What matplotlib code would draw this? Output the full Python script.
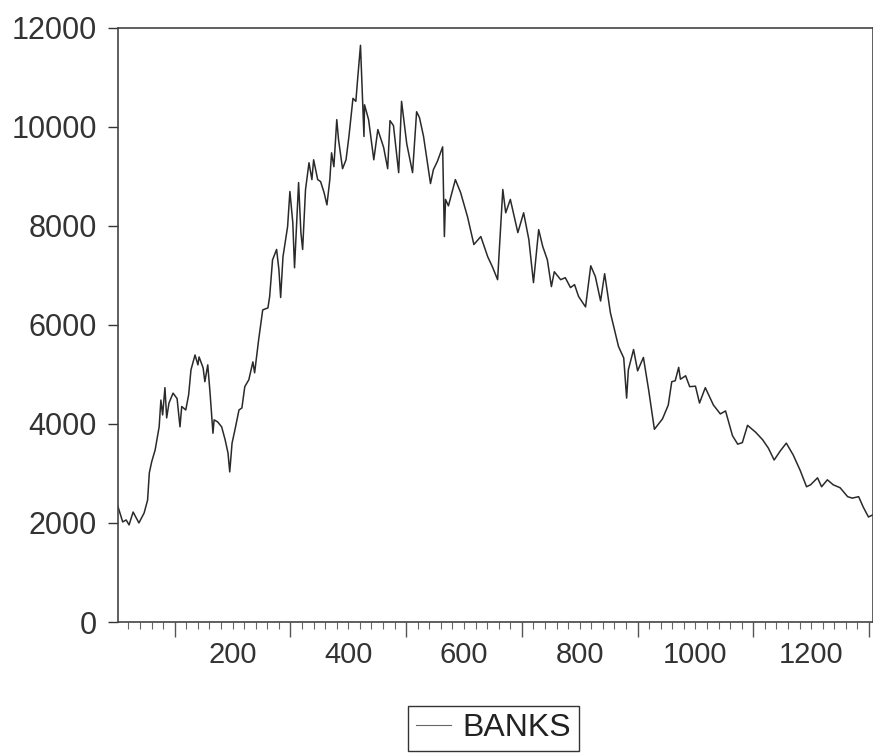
import matplotlib
matplotlib.use("Agg")
import matplotlib.pyplot as plt
from matplotlib.ticker import FixedLocator, MultipleLocator, FuncFormatter, NullFormatter

plt.rcParams['font.family'] = ['Liberation Sans', 'DejaVu Sans']

obs = [1, 10, 16, 21, 28, 38, 47, 53, 56, 60, 66, 73, 76, 79, 83, 86, 90, 97,
       104, 109, 112, 119, 124, 128, 135, 140, 142, 149, 152, 157, 161, 166,
       168, 174, 181, 187, 192, 195, 199, 204, 211, 216, 221, 228, 235, 238,
       245, 252, 261, 264, 269, 276, 280, 283, 287, 295, 299, 304, 307, 314,
       318, 321, 326, 332, 337, 340, 347, 352, 358, 363, 368, 371, 375, 380,
       383, 390, 396, 401, 408, 413, 416, 421, 427, 428, 435, 444, 451, 461,
       468, 472, 478, 487, 492, 501, 511, 518, 523, 530, 542, 547, 554, 563,
       566, 568, 573, 585, 594, 606, 617, 629, 641, 649, 658, 667, 672, 680,
       693, 703, 712, 720, 729, 736, 744, 751, 756, 767, 775, 784, 791, 798,
       810, 819, 827, 836, 843, 853, 867, 876, 881, 884, 893, 900, 910, 919,
       929, 943, 953, 959, 965, 971, 974, 983, 990, 1000, 1007, 1017, 1031,
       1043, 1052, 1064, 1073, 1081, 1090, 1104, 1116, 1126, 1136, 1147, 1157,
       1169, 1181, 1192, 1199, 1211, 1218, 1228, 1238, 1250, 1263, 1271, 1282,
       1290, 1299, 1306]

banks = [2360, 2020, 2060, 1960, 2220, 2000, 2200, 2460, 3010, 3230, 3470,
         3940, 4480, 4180, 4730, 4120, 4420, 4620, 4510, 3940, 4350, 4280,
         4590, 5090, 5390, 5190, 5350, 5130, 4850, 5190, 4620, 3810, 4080,
         4040, 3940, 3680, 3410, 3030, 3610, 3880, 4280, 4320, 4750, 4890,
         5250, 5030, 5700, 6300, 6340, 6570, 7310, 7520, 7110, 6550, 7370,
         7980, 8690, 8060, 7150, 8870, 7860, 7520, 8730, 9270, 8930, 9330,
         8930, 8890, 8670, 8420, 8930, 9470, 9190, 10140, 9740, 9150, 9330,
         9800, 10570, 10510, 10950, 11640, 9800, 10440, 10140, 9330, 9940,
         9580, 9150, 10120, 10020, 9070, 10510, 9650, 9070, 10300, 10180,
         9800, 8850, 9130, 9300, 9590, 7780, 8530, 8400, 8930, 8670, 8180,
         7620, 7780, 7370, 7170, 6910, 8730, 8260, 8530, 7860, 8260, 7720,
         6850, 7920, 7580, 7310, 6770, 7070, 6910, 6950, 6750, 6810, 6570,
         6360, 7190, 6970, 6480, 7030, 6240, 5560, 5330, 4520, 5090, 5500,
         5070, 5340, 4690, 3890, 4100, 4380, 4850, 4870, 5140, 4900, 4970,
         4750, 4760, 4420, 4730, 4380, 4200, 4260, 3760, 3590, 3620, 3970,
         3830, 3680, 3510, 3270, 3460, 3610, 3370, 3060, 2730, 2770, 2910,
         2730, 2870, 2770, 2710, 2530, 2500, 2530, 2320, 2120, 2160]

y_ticks = [0, 2000, 4000, 6000, 8000, 10000, 12000]
x_labels = [200, 400, 600, 800, 1000, 1200]
x_long_ticks = [100, 300, 500, 700, 900, 1100, 1300]

#%% Figure
fig = plt.figure(figsize=(8.73, 7.55), dpi=100)
ax = fig.add_axes([117.5 / 873, 1 - 622 / 755, 755 / 873, 594.5 / 755])

ax.plot(obs, banks, color='#2a2a2a', lw=1.1, label='BANKS')

ax.set_xlim(1, 1306)
ax.set_ylim(0, 12000)

for s in ax.spines.values():
    s.set_color('#444444')
    s.set_linewidth(1.2)

#   y axis
ax.yaxis.set_major_locator(FixedLocator(y_ticks))
ax.tick_params(axis='y', direction='out', length=7, width=1, pad=8,
               labelsize=22, colors='#333333')

#   x axis: long unlabeled ticks at odd hundreds, short ticks every 20,
#   labels at even hundreds
ax.xaxis.set_major_locator(FixedLocator(x_long_ticks))
ax.xaxis.set_major_formatter(NullFormatter())
ax.xaxis.set_minor_locator(MultipleLocator(20))
ax.xaxis.set_minor_formatter(FuncFormatter(
    lambda v, p: str(int(round(v))) if int(round(v)) in x_labels else ''))
ax.tick_params(axis='x', which='major', direction='out', length=11, width=1,
               colors='#555555')
ax.tick_params(axis='x', which='minor', direction='out', length=5, width=0.8,
               pad=9, labelsize=21, labelcolor='#333333', color='#666666')

#   legend below the plot
leg = fig.legend(loc='center', bbox_to_anchor=(493.5 / 873, 1 - 728.5 / 755),
                 fontsize=23, frameon=True, fancybox=False, framealpha=1,
                 edgecolor='#333333', handlelength=1.1, handletextpad=0.35,
                 borderpad=0.25, borderaxespad=0)
leg.get_frame().set_linewidth(1.0)
for line in leg.get_lines():
    line.set_color('#666666')
    line.set_linewidth(0.8)
for t in leg.get_texts():
    t.set_color('#222222')

fig.savefig('out.png', dpi=100)
